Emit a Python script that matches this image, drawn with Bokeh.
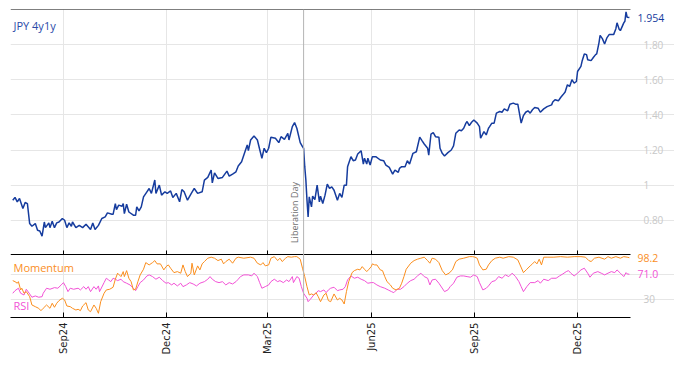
import math
import pandas as pd
from bokeh.plotting import figure
from bokeh.models import (Range1d, FixedTicker, DatetimeTickFormatter, NumeralTickFormatter,
                          Span, Label, ColumnDataSource, DatetimeAxis, LinearAxis, Grid)
from bokeh.embed import file_html
from bokeh.resources import INLINE

# ---------------- data ----------------
jpy_dates = [
 "2024-07-18","2024-07-20","2024-07-22","2024-07-24","2024-07-27","2024-07-29","2024-07-31","2024-08-02",
 "2024-08-04","2024-08-07","2024-08-09","2024-08-11","2024-08-13","2024-08-15","2024-08-16","2024-08-19",
 "2024-08-20","2024-08-22","2024-08-24","2024-08-26","2024-08-28","2024-08-31","2024-09-02","2024-09-04",
 "2024-09-06","2024-09-08","2024-09-09","2024-09-12","2024-09-15","2024-09-18","2024-09-21","2024-09-25",
 "2024-09-27","2024-09-29","2024-10-02","2024-10-05","2024-10-08","2024-10-10","2024-10-14","2024-10-15",
 "2024-10-17","2024-10-18","2024-10-20","2024-10-23","2024-10-24","2024-10-25","2024-10-27","2024-10-29",
 "2024-11-02","2024-11-04","2024-11-05","2024-11-07","2024-11-09","2024-11-11","2024-11-14","2024-11-16",
 "2024-11-18","2024-11-21","2024-11-22","2024-11-25","2024-11-27","2024-11-30","2024-12-02","2024-12-05",
 "2024-12-07","2024-12-10","2024-12-13","2024-12-15","2024-12-17","2024-12-20","2024-12-23","2024-12-26",
 "2024-12-29","2025-01-02","2025-01-04","2025-01-07","2025-01-10","2025-01-11","2025-01-13","2025-01-16",
 "2025-01-20","2025-01-24","2025-01-26","2025-01-29","2025-02-01","2025-02-03","2025-02-06","2025-02-08",
 "2025-02-11","2025-02-12","2025-02-14","2025-02-17","2025-02-20","2025-02-22","2025-02-24","2025-02-26",
 "2025-02-28","2025-03-02","2025-03-04","2025-03-08","2025-03-11","2025-03-13","2025-03-16","2025-03-19",
 "2025-03-20","2025-03-23","2025-03-25","2025-03-27","2025-03-30","2025-04-01","2025-04-02","2025-04-03",
 "2025-04-04","2025-04-05","2025-04-06","2025-04-07","2025-04-09","2025-04-10","2025-04-12","2025-04-14",
 "2025-04-16","2025-04-17","2025-04-19","2025-04-21","2025-04-23","2025-04-25","2025-04-27","2025-04-29",
 "2025-05-02","2025-05-04","2025-05-06","2025-05-08","2025-05-10","2025-05-11","2025-05-14","2025-05-16",
 "2025-05-18","2025-05-20","2025-05-23","2025-05-25","2025-05-26","2025-05-28","2025-05-29","2025-05-31",
 "2025-06-02","2025-06-05","2025-06-09","2025-06-12","2025-06-14","2025-06-17","2025-06-20","2025-06-22",
 "2025-06-25","2025-06-26","2025-06-28","2025-07-01","2025-07-03","2025-07-05","2025-07-08","2025-07-11",
 "2025-07-14","2025-07-16","2025-07-18","2025-07-21","2025-07-22","2025-07-24","2025-07-26","2025-07-28",
 "2025-07-31","2025-08-01","2025-08-03","2025-08-05","2025-08-08","2025-08-11","2025-08-13","2025-08-15",
 "2025-08-18","2025-08-20","2025-08-22","2025-08-24","2025-08-25","2025-08-27","2025-08-29","2025-08-31",
 "2025-09-03","2025-09-05","2025-09-06","2025-09-09","2025-09-11","2025-09-13","2025-09-14","2025-09-16",
 "2025-09-18","2025-09-20","2025-09-23","2025-09-25","2025-09-27","2025-09-30","2025-10-02","2025-10-05",
 "2025-10-07","2025-10-09","2025-10-12","2025-10-14","2025-10-16","2025-10-18","2025-10-20","2025-10-22",
 "2025-10-24","2025-10-27","2025-10-29","2025-11-01","2025-11-04","2025-11-08","2025-11-09","2025-11-11",
 "2025-11-14","2025-11-16","2025-11-18","2025-11-20","2025-11-22","2025-11-24","2025-11-26","2025-11-28",
 "2025-11-30","2025-12-01","2025-12-04","2025-12-05","2025-12-07","2025-12-09","2025-12-10","2025-12-13",
 "2025-12-15","2025-12-17","2025-12-18","2025-12-20","2025-12-21","2025-12-23","2025-12-25","2025-12-27",
 "2025-12-29","2025-12-31","2026-01-02","2026-01-04","2026-01-05","2026-01-07","2026-01-08","2026-01-11",
 "2026-01-12","2026-01-13","2026-01-14","2026-01-16"]
jpy_vals = [
 0.914,0.930,0.905,0.924,0.867,0.901,0.895,0.781,
 0.766,0.781,0.743,0.739,0.709,0.790,0.758,0.785,
 0.758,0.794,0.758,0.785,0.790,0.810,0.800,0.758,
 0.785,0.766,0.790,0.758,0.771,0.758,0.777,0.747,
 0.785,0.747,0.771,0.810,0.819,0.842,0.834,0.834,
 0.895,0.861,0.886,0.880,0.895,0.838,0.891,0.847,
 0.829,0.829,0.876,0.853,0.876,0.933,0.962,0.981,
 0.953,1.029,0.953,1.000,0.943,0.962,0.953,0.967,
 0.930,0.953,0.905,0.975,0.962,0.914,0.949,0.981,
 0.953,0.962,1.029,1.044,1.086,1.013,1.070,1.038,
 1.044,1.080,1.051,1.063,1.076,1.109,1.133,1.171,
 1.229,1.196,1.257,1.280,1.257,1.204,1.153,1.210,
 1.185,1.210,1.273,1.267,1.242,1.276,1.261,1.295,
 1.257,1.333,1.356,1.324,1.242,1.219,1.210,1.105,
 1.029,0.914,0.819,0.933,0.876,0.937,0.918,1.000,
 0.905,0.937,0.895,0.943,1.006,0.981,0.990,0.971,
 0.914,0.953,0.930,1.000,1.000,1.105,1.162,1.139,
 1.143,1.177,1.196,1.120,1.153,1.120,1.153,1.114,
 1.162,1.162,1.143,1.139,1.114,1.101,1.063,1.086,
 1.073,1.095,1.105,1.105,1.139,1.120,1.181,1.190,
 1.273,1.253,1.234,1.210,1.171,1.291,1.299,1.276,
 1.273,1.210,1.181,1.166,1.185,1.200,1.223,1.295,
 1.314,1.310,1.324,1.353,1.362,1.339,1.358,1.371,
 1.353,1.333,1.267,1.305,1.286,1.324,1.333,1.353,
 1.353,1.410,1.419,1.415,1.434,1.423,1.461,1.467,
 1.461,1.461,1.353,1.396,1.415,1.423,1.410,1.429,
 1.442,1.438,1.415,1.434,1.447,1.457,1.473,1.486,
 1.480,1.499,1.514,1.530,1.571,1.562,1.600,1.581,
 1.590,1.647,1.676,1.705,1.747,1.743,1.714,1.709,
 1.727,1.743,1.747,1.810,1.853,1.834,1.804,1.838,
 1.857,1.857,1.857,1.891,1.924,1.886,1.880,1.924,
 1.933,1.987,1.956,1.954]

mom_dates = [
 "2024-07-18","2024-07-20","2024-07-22","2024-07-23","2024-07-25","2024-07-26","2024-07-28","2024-07-30",
 "2024-08-02","2024-08-04","2024-08-07","2024-08-10","2024-08-12","2024-08-14","2024-08-17","2024-08-20",
 "2024-08-22","2024-08-24","2024-08-26","2024-08-28","2024-08-31","2024-09-02","2024-09-04","2024-09-07",
 "2024-09-09","2024-09-12","2024-09-14","2024-09-16","2024-09-18","2024-09-21","2024-09-23","2024-09-25",
 "2024-09-28","2024-09-30","2024-10-02","2024-10-04","2024-10-07","2024-10-09","2024-10-12","2024-10-15",
 "2024-10-17","2024-10-19","2024-10-22","2024-10-24","2024-10-25","2024-10-27","2024-10-29","2024-10-31",
 "2024-11-02","2024-11-04","2024-11-06","2024-11-08","2024-11-11","2024-11-13","2024-11-16","2024-11-19",
 "2024-11-21","2024-11-23","2024-11-26","2024-11-29","2024-12-01","2024-12-03","2024-12-05","2024-12-08",
 "2024-12-11","2024-12-14","2024-12-16","2024-12-18","2024-12-20","2024-12-23","2024-12-24","2024-12-26",
 "2024-12-29","2024-12-31","2025-01-02","2025-01-04","2025-01-07","2025-01-10","2025-01-13","2025-01-16",
 "2025-01-19","2025-01-21","2025-01-23","2025-01-26","2025-01-29","2025-02-01","2025-02-03","2025-02-08",
 "2025-02-14","2025-02-17","2025-02-20","2025-02-23","2025-02-25","2025-02-27","2025-03-02","2025-03-04",
 "2025-03-07","2025-03-10","2025-03-12","2025-03-14","2025-03-17","2025-03-19","2025-03-22","2025-03-25",
 "2025-03-27","2025-03-30","2025-04-01","2025-04-03","2025-04-05","2025-04-07","2025-04-09","2025-04-11",
 "2025-04-13","2025-04-15","2025-04-17","2025-04-20","2025-04-22","2025-04-24","2025-04-26","2025-04-29",
 "2025-05-02","2025-05-04","2025-05-06","2025-05-08","2025-05-10","2025-05-12","2025-05-15","2025-05-17",
 "2025-05-20","2025-05-22","2025-05-24","2025-05-26","2025-05-28","2025-05-30","2025-06-01","2025-06-02",
 "2025-06-04","2025-06-06","2025-06-09","2025-06-11","2025-06-13","2025-06-15","2025-06-18","2025-06-20",
 "2025-06-23","2025-06-26","2025-06-28","2025-06-30","2025-07-02","2025-07-06","2025-07-09","2025-07-12",
 "2025-07-15","2025-07-18","2025-07-21","2025-07-23","2025-07-25","2025-07-28","2025-07-31","2025-08-03",
 "2025-08-06","2025-08-09","2025-08-12","2025-08-15","2025-08-18","2025-08-22","2025-08-27","2025-08-30",
 "2025-09-01","2025-09-03","2025-09-05","2025-09-08","2025-09-11","2025-09-13","2025-09-16","2025-09-19",
 "2025-09-23","2025-09-26","2025-10-01","2025-10-05","2025-10-09","2025-10-11","2025-10-14","2025-10-17",
 "2025-10-20","2025-10-22","2025-10-24","2025-10-26","2025-10-28","2025-10-30","2025-11-01","2025-11-04",
 "2025-11-10","2025-11-16","2025-11-22","2025-11-28","2025-12-04","2025-12-08","2025-12-11","2025-12-13",
 "2025-12-16","2025-12-20","2025-12-25","2025-12-28","2025-12-31","2026-01-04","2026-01-08","2026-01-11",
 "2026-01-14","2026-01-16"]
mom_vals = [
 60.6,58.9,56.3,58.9,45.3,48.1,39.8,42.5,
 34.2,20.6,17.8,15.1,11.2,15.1,20.6,15.1,
 23.4,16.8,23.4,27.7,31.6,28.8,18.9,17.8,
 15.1,12.3,13.5,11.2,18.9,24.4,12.3,9.5,
 20.6,15.1,6.9,26.0,39.8,45.3,46.4,49.7,
 62.9,72.8,67.2,75.4,67.2,77.0,64.5,58.9,
 45.3,46.4,58.9,69.9,79.3,90.2,86.4,90.2,
 93.5,88.1,88.1,78.2,83.6,86.4,81.0,73.7,
 75.4,72.8,86.4,75.4,67.2,72.8,89.2,69.9,
 84.8,78.2,88.1,91.9,97.4,99.1,97.4,93.5,
 95.8,88.1,91.9,95.8,89.2,97.4,99.1,97.4,
 99.1,97.4,89.2,86.4,90.2,84.8,86.4,97.4,
 100.0,93.5,97.4,91.9,97.4,100.0,99.1,100.0,
 100.0,95.8,81.0,67.2,50.7,37.0,38.7,37.0,
 40.8,34.2,26.0,37.0,39.8,27.7,26.0,38.7,
 28.8,31.6,28.8,22.2,42.5,58.9,73.7,77.0,
 79.3,78.2,83.6,79.3,75.4,79.3,83.6,88.1,
 86.4,86.4,78.2,77.0,67.2,58.9,53.5,48.1,
 45.3,48.1,56.3,67.2,79.3,89.2,93.5,95.8,
 97.4,99.1,93.5,89.2,97.4,95.8,90.2,77.0,
 69.9,72.8,78.2,91.9,95.8,97.4,100.0,100.0,
 99.1,97.4,86.4,78.2,79.3,86.4,93.5,97.4,
 99.1,97.4,100.0,99.1,94.7,86.4,73.7,79.3,
 84.8,88.1,91.9,88.1,95.8,86.4,99.1,99.1,
 99.1,100.0,99.1,100.0,100.0,99.1,93.5,91.9,
 97.4,99.1,95.8,100.0,97.4,100.0,97.4,100.0,
 99.1,98.2]

rsi_dates = [
 "2024-07-18","2024-07-20","2024-07-23","2024-07-25","2024-07-28","2024-07-30","2024-08-02","2024-08-04",
 "2024-08-07","2024-08-10","2024-08-13","2024-08-14","2024-08-17","2024-08-20","2024-08-24","2024-08-27",
 "2024-08-30","2024-09-01","2024-09-03","2024-09-05","2024-09-07","2024-09-10","2024-09-14","2024-09-16",
 "2024-09-19","2024-09-21","2024-09-23","2024-09-25","2024-09-28","2024-09-30","2024-10-02","2024-10-03",
 "2024-10-07","2024-10-09","2024-10-11","2024-10-13","2024-10-15","2024-10-17","2024-10-19","2024-10-22",
 "2024-10-24","2024-10-27","2024-10-30","2024-11-02","2024-11-04","2024-11-06","2024-11-08","2024-11-11",
 "2024-11-14","2024-11-16","2024-11-19","2024-11-22","2024-11-25","2024-11-28","2024-12-01","2024-12-03",
 "2024-12-06","2024-12-08","2024-12-11","2024-12-14","2024-12-16","2024-12-19","2024-12-22","2024-12-25",
 "2024-12-28","2024-12-31","2025-01-04","2025-01-07","2025-01-09","2025-01-11","2025-01-14","2025-01-17",
 "2025-01-20","2025-01-23","2025-01-26","2025-01-29","2025-02-01","2025-02-03","2025-02-05","2025-02-08",
 "2025-02-12","2025-02-15","2025-02-17","2025-02-20","2025-02-22","2025-02-24","2025-02-27","2025-03-02",
 "2025-03-04","2025-03-07","2025-03-10","2025-03-12","2025-03-15","2025-03-18","2025-03-20","2025-03-23",
 "2025-03-24","2025-03-27","2025-03-29","2025-03-31","2025-04-02","2025-04-05","2025-04-06","2025-04-08",
 "2025-04-11","2025-04-13","2025-04-15","2025-04-17","2025-04-20","2025-04-22","2025-04-24","2025-04-26",
 "2025-04-29","2025-05-02","2025-05-04","2025-05-07","2025-05-09","2025-05-11","2025-05-14","2025-05-17",
 "2025-05-20","2025-05-23","2025-05-26","2025-05-29","2025-06-01","2025-06-03","2025-06-06","2025-06-09",
 "2025-06-13","2025-06-16","2025-06-19","2025-06-21","2025-06-24","2025-06-27","2025-06-30","2025-07-03",
 "2025-07-06","2025-07-09","2025-07-12","2025-07-15","2025-07-18","2025-07-21","2025-07-23","2025-07-25",
 "2025-07-28","2025-07-31","2025-08-05","2025-08-08","2025-08-10","2025-08-13","2025-08-16","2025-08-19",
 "2025-08-22","2025-08-25","2025-08-28","2025-08-31","2025-09-03","2025-09-05","2025-09-08","2025-09-11",
 "2025-09-13","2025-09-16","2025-09-19","2025-09-22","2025-09-25","2025-09-28","2025-10-01","2025-10-04",
 "2025-10-07","2025-10-10","2025-10-12","2025-10-14","2025-10-17","2025-10-20","2025-10-24","2025-10-27",
 "2025-10-29","2025-11-01","2025-11-05","2025-11-08","2025-11-12","2025-11-15","2025-11-18","2025-11-21",
 "2025-11-23","2025-11-25","2025-11-28","2025-12-01","2025-12-04","2025-12-07","2025-12-10","2025-12-12",
 "2025-12-15","2025-12-19","2025-12-22","2025-12-25","2025-12-28","2025-12-31","2026-01-03","2026-01-05",
 "2026-01-08","2026-01-11","2026-01-13","2026-01-14","2026-01-16"]
rsi_vals = [
 39.8,44.1,48.1,39.8,37.0,46.4,38.7,33.3,
 35.4,33.3,34.2,39.8,48.1,46.4,49.1,48.1,
 53.5,57.3,50.7,42.5,48.1,46.4,48.1,45.3,
 50.7,46.4,50.7,42.5,50.7,46.4,51.9,42.5,
 57.3,64.5,61.7,58.9,64.5,62.9,60.6,62.9,
 58.9,56.3,53.5,48.1,44.1,50.7,57.3,61.7,
 68.3,70.0,67.2,62.9,66.2,60.6,56.3,57.3,
 53.5,56.3,51.9,56.3,50.7,53.5,57.3,55.1,
 51.9,56.3,58.9,62.9,67.2,62.9,58.9,57.3,
 58.9,53.5,57.3,55.1,58.9,62.9,67.2,70.0,
 70.0,68.3,72.8,67.2,57.3,48.1,50.7,53.5,
 58.9,62.9,58.9,60.6,57.3,61.7,58.9,67.2,
 57.3,67.2,64.5,50.7,39.8,31.6,26.0,30.0,
 37.0,39.8,44.1,42.5,45.3,40.8,45.3,48.1,
 49.7,44.1,45.3,46.4,50.7,61.7,68.3,64.5,
 66.2,62.9,60.6,56.3,57.3,57.3,53.5,50.7,
 48.1,45.3,42.5,40.8,46.4,46.4,50.7,56.3,
 60.6,62.9,68.3,72.8,67.2,64.5,53.5,61.7,
 62.9,56.3,42.5,45.3,50.7,56.3,66.2,68.3,
 68.3,67.2,66.2,70.0,67.2,57.3,45.3,48.1,
 51.9,58.9,60.6,67.2,64.5,70.0,67.2,72.8,
 67.2,58.9,50.7,42.5,50.7,57.3,57.3,60.6,
 56.3,62.9,60.6,64.5,64.5,68.3,71.6,75.4,
 77.0,72.8,68.3,72.8,78.2,81.0,72.8,66.2,
 72.8,75.4,72.8,70.0,72.8,75.4,73.7,78.2,
 72.8,67.2,73.7,71.6,71.0]

x_tick_dates = ["2024-09-01", "2024-12-01", "2025-03-01", "2025-06-01", "2025-09-01", "2025-12-01"]
top_ticks = [0.8, 1.0, 1.2, 1.4, 1.6, 1.8]
bottom_label_ticks = [30]
bottom_grid_ticks = [30, 70]
liberation_day = "2025-04-02"
x_start, x_end = "2024-07-16", "2026-01-17"      # data area
x_frame_end = "2026-02-25"                        # frame also holds the right-hand labels
top_min, top_max = 0.605, 2.0
bot_min, bot_max = 0.0, 103.5

# ---------------- layout / styling ----------------
TOP_H, BOT_H = 245, 63          # pixel heights of the two stacked panels
NAVY = "#163c9e"
ORANGE = "#fa8e1e"
PINK = "#f252d6"
GRID = "#e6e6e6"
TICKGRAY = "#c8c8c8"
FONT = "Open Sans"


def ms(s):
    return pd.Timestamp(s).value / 1e6


x_ticks_ms = [ms(d) for d in x_tick_dates]
x_bounds = (ms(x_start), ms(x_end))
frac = (TOP_H + BOT_H)
main_lo = top_max - (top_max - top_min) * frac / TOP_H
bot_hi = bot_min + (bot_max - bot_min) * frac / BOT_H

p = figure(width=674, height=9 + TOP_H + BOT_H + 41,
           x_range=Range1d(start=pd.Timestamp(x_start), end=pd.Timestamp(x_frame_end)),
           y_range=Range1d(main_lo, top_max),
           x_axis_type=None, y_axis_location=None,
           output_backend="svg", toolbar_location=None,
           min_border_left=10, min_border_right=0, min_border_top=9, min_border_bottom=41)
p.outline_line_color = None
p.extra_y_ranges = {"bot": Range1d(bot_min, bot_hi)}

# grids
for g in list(p.renderers) + list(p.center):
    pass
p.center = [c for c in p.center if not isinstance(c, Grid)]
p.add_layout(Grid(dimension=0, ticker=FixedTicker(ticks=x_ticks_ms), grid_line_color=GRID), "center")
p.add_layout(Grid(dimension=1, ticker=FixedTicker(ticks=top_ticks), grid_line_color=GRID,
                  bounds=x_bounds), "center")
p.add_layout(Grid(dimension=1, ticker=FixedTicker(ticks=bottom_grid_ticks), grid_line_color=GRID,
                  bounds=x_bounds, y_range_name="bot"), "center")

# axes
label_fmt = DatetimeTickFormatter(days="%b%y", months="%b%y", years="%b%y",
                                  hours="%b%y", minutes="%b%y", seconds="%b%y")
ax_top_line = DatetimeAxis(fixed_location=top_max, bounds=x_bounds, ticker=FixedTicker(ticks=[]),
                           major_label_text_font_size="0px", major_tick_line_color=None,
                           minor_tick_line_color=None, axis_line_color="black")
p.add_layout(ax_top_line, "above")
ax_sep = DatetimeAxis(fixed_location=top_min, bounds=x_bounds, ticker=FixedTicker(ticks=x_ticks_ms),
                      major_label_overrides={t: "" for t in x_ticks_ms},
                      major_label_text_font_size="0px", major_label_standoff=0,
                      major_tick_in=4, major_tick_out=0, minor_tick_line_color=None,
                      axis_line_color="black", major_tick_line_color="black")
p.add_layout(ax_sep, "below")
ax_bottom = DatetimeAxis(bounds=x_bounds, ticker=FixedTicker(ticks=x_ticks_ms), formatter=label_fmt,
                         major_label_orientation=math.pi / 2,
                         major_tick_in=5, major_tick_out=0, minor_tick_line_color=None,
                         axis_line_color="black", major_tick_line_color="black",
                         major_label_standoff=5, major_label_text_font="DejaVu Sans",
                         major_label_text_font_size="10px", major_label_text_color="#222222")
p.add_layout(ax_bottom, "below")


def value_axis(ticks, **kw):
    ax = LinearAxis(fixed_location=ms(x_end), ticker=FixedTicker(ticks=ticks),
                    axis_line_color=None, major_tick_line_color=None, minor_tick_line_color=None,
                    major_label_standoff=7, major_label_text_color=TICKGRAY,
                    major_label_text_font=FONT, major_label_text_font_size="10px", **kw)
    p.add_layout(ax, "right")
    return ax


ax_r1 = value_axis(top_ticks, formatter=NumeralTickFormatter(format="0.00"))
ax_r1.major_label_overrides = {1: "1"}
value_axis(bottom_label_ticks, y_range_name="bot")

# lines
src1 = ColumnDataSource(dict(x=pd.to_datetime(jpy_dates), y=jpy_vals))
src_m = ColumnDataSource(dict(x=pd.to_datetime(mom_dates), y=mom_vals))
src_r = ColumnDataSource(dict(x=pd.to_datetime(rsi_dates), y=rsi_vals))
p.line("x", "y", source=src1, line_color=NAVY, line_width=1.5)
p.line("x", "y", source=src_r, line_color=PINK, line_width=1, y_range_name="bot")
p.line("x", "y", source=src_m, line_color=ORANGE, line_width=1, y_range_name="bot")

# event marker
p.add_layout(Span(location=ms(liberation_day), dimension="height", line_color="#b4b4b4", line_width=1))
p.add_layout(Label(x=ms(liberation_day), y=0.67, text="Liberation Day", angle=math.pi / 2,
                   x_offset=-9, text_align="left", text_baseline="alphabetic",
                   text_font=FONT, text_font_size="9px", text_color="#6e6e6e"))

# series names and last values
p.add_layout(Label(x=ms(x_start), y=1.91, x_offset=3, text="JPY 4y1y", text_baseline="middle",
                   text_font=FONT, text_font_size="11px", text_color="#2a4aa8"))
p.add_layout(Label(x=ms(x_end), y=jpy_vals[-1], x_offset=7, text=f"{jpy_vals[-1]:.3f}",
                   text_baseline="middle", text_font=FONT, text_font_size="10.5px", text_color=NAVY))
p.add_layout(Label(x=ms(x_start), y=81.5, x_offset=3, text="Momentum", text_baseline="middle",
                   text_font=FONT, text_font_size="11px", text_color=ORANGE, y_range_name="bot"))
p.add_layout(Label(x=ms(x_start), y=19, x_offset=3, text="RSI", text_baseline="middle",
                   text_font=FONT, text_font_size="11px", text_color=PINK, y_range_name="bot"))
p.add_layout(Label(x=ms(x_end), y=mom_vals[-1], x_offset=7, text=f"{mom_vals[-1]:.1f}",
                   text_baseline="middle", text_font=FONT, text_font_size="10.5px", text_color=ORANGE,
                   y_range_name="bot"))
p.add_layout(Label(x=ms(x_end), y=rsi_vals[-1], x_offset=7, text=f"{rsi_vals[-1]:.1f}",
                   text_baseline="middle", text_font=FONT, text_font_size="10.5px", text_color=PINK,
                   y_range_name="bot"))

open("out.html", "w").write(file_html(p, INLINE))
